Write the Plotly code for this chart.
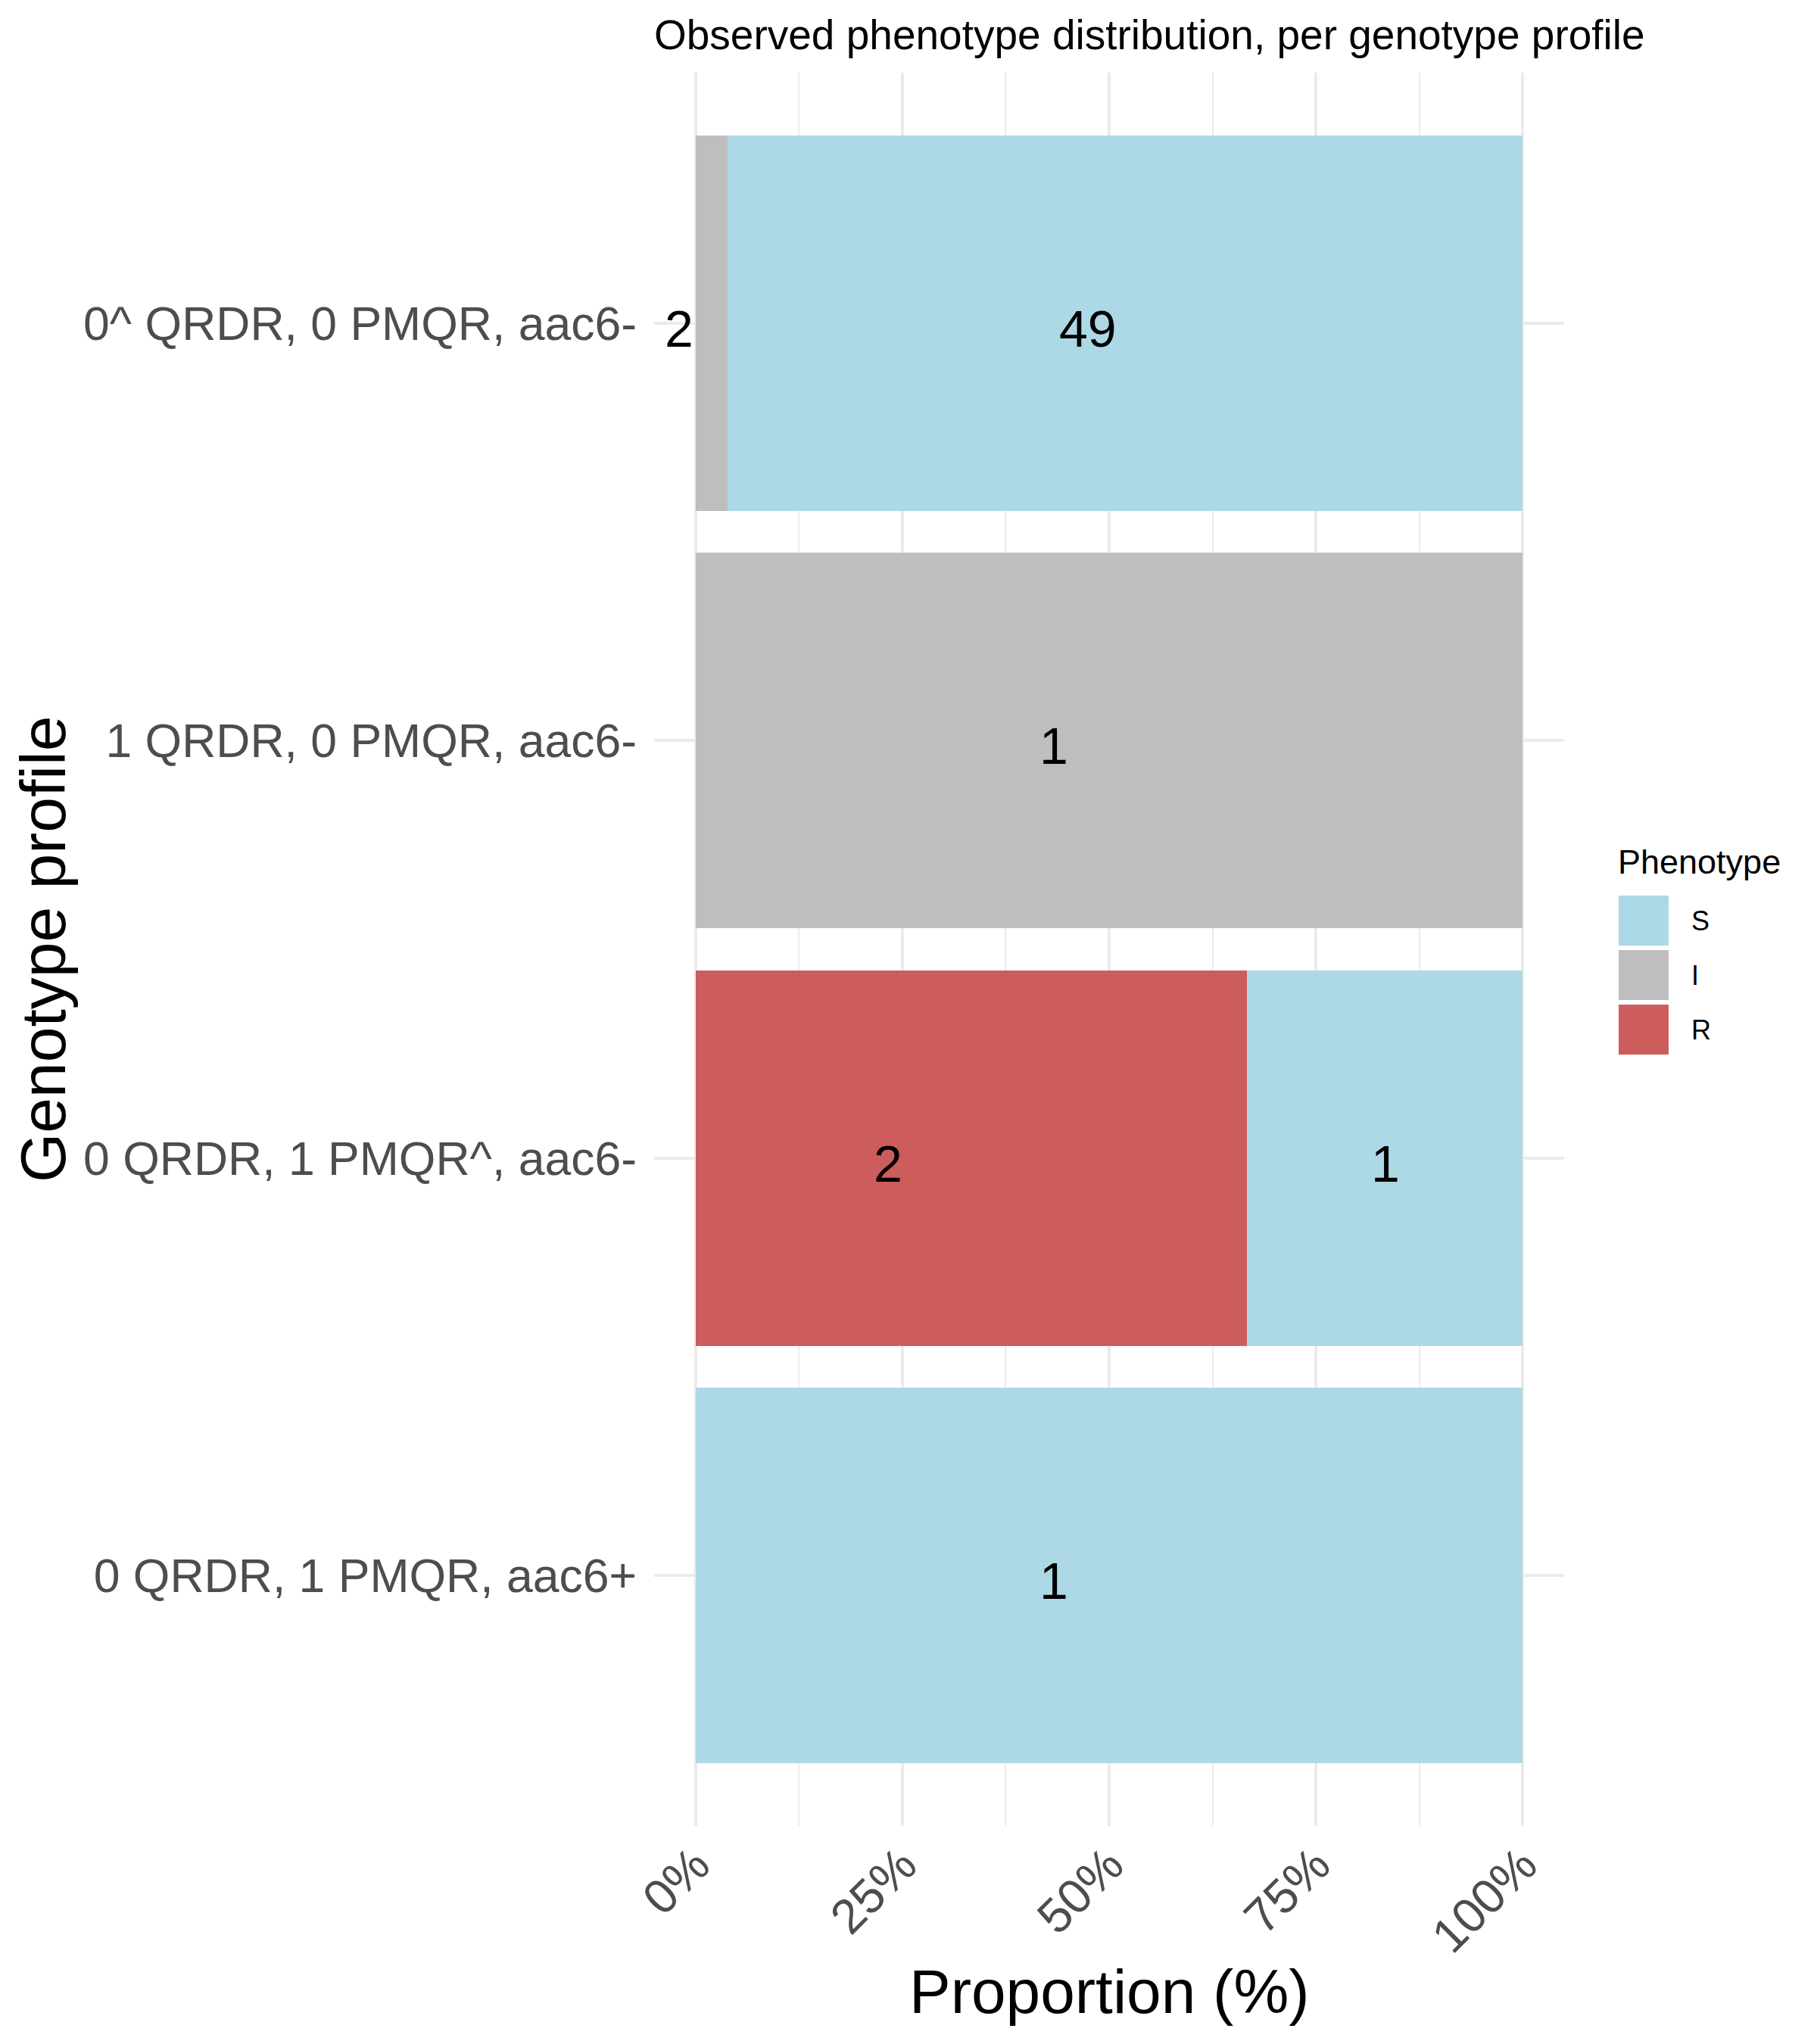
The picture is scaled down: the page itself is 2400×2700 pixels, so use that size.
import plotly.graph_objects as go

# ---------------- data ----------------
profiles = [
    "0^ QRDR, 0 PMQR, aac6-",
    "1 QRDR, 0 PMQR, aac6-",
    "0 QRDR, 1 PMQR^, aac6-",
    "0 QRDR, 1 PMQR, aac6+",
]
phenotypes = ["S", "I", "R"]
count_S = [49, 0, 1, 1]
count_I = [2, 1, 0, 0]
count_R = [0, 0, 2, 0]
x_ticks = [0, 25, 50, 75, 100]

# label nudges (percentage points, relative to segment centre) as seen in the reference
label_nudge = {
    "R": [0, 0, -10.1, 0],
    "I": [-3.9, -6.7, 0, 0],
    "S": [-4.5, 0, 0.1, -6.7],
}

colors = {"S": "#ADD8E6", "I": "#BEBEBE", "R": "#CD5C5C"}
FONT = "Liberation Sans, Arial, Helvetica, sans-serif"

W, H = 2400, 2700
ML, MR, MT, MB = 864, 334, 96, 288
PW, PH = W - ML - MR, H - MT - MB


def px_x(p):
    return (p - ML) / PW


def px_y(p):
    return (H - MB - p) / PH


counts = {"S": count_S, "I": count_I, "R": count_R}
totals = [s + i + r for s, i, r in zip(count_S, count_I, count_R)]
pct = {k: [100.0 * c / t for c, t in zip(v, totals)] for k, v in counts.items()}

fig = go.Figure()
stack_order = ["R", "I", "S"]  # left to right
for ph in stack_order:
    fig.add_trace(go.Bar(
        y=profiles, x=pct[ph], orientation="h", name=ph,
        marker=dict(color=colors[ph], line=dict(width=0)),
        width=0.9, showlegend=False, hoverinfo="skip",
    ))

annotations = []
# bar labels
base = [0.0] * len(profiles)
for ph in stack_order:
    for i, p in enumerate(profiles):
        v = pct[ph][i]
        if counts[ph][i] > 0:
            annotations.append(dict(
                x=base[i] + v / 2 + label_nudge[ph][i], y=p, xref="x", yref="y",
                text=str(counts[ph][i]), showarrow=False, yshift=-7,
                xanchor="center", yanchor="middle",
                font=dict(family=FONT, size=68, color="black"),
            ))
        base[i] += v

fig.update_layout(
    width=W, height=H, barmode="stack", bargap=0.1,
    margin=dict(l=ML, r=MR, t=MT, b=MB, pad=0),
    paper_bgcolor="white", plot_bgcolor="white",
    font=dict(family=FONT, color="black"),
    title=dict(
        text="Observed phenotype distribution, per genotype profile",
        x=px_x(864), xref="paper", xanchor="left",
        y=1 - 46 / H, yref="container", yanchor="middle",
        font=dict(family=FONT, size=55, color="black"),
    ),
    xaxis=dict(
        range=[-5, 105], tickvals=x_ticks, ticktext=[f"{v}%" for v in x_ticks],
        tickangle=-45, tickfont=dict(family=FONT, size=64, color="#4D4D4D"),
        showgrid=True, gridcolor="#EBEBEB", gridwidth=3.5,
        zeroline=False, showline=False, ticks="",
        minor=dict(dtick=12.5, tick0=0, showgrid=True, gridcolor="#EBEBEB", gridwidth=1.8),
        fixedrange=True,
    ),
    yaxis=dict(
        categoryorder="array", categoryarray=profiles, type="category",
        range=[3.6, -0.6],
        tickfont=dict(family=FONT, size=62.5, color="#4D4D4D"),
        showgrid=True, gridcolor="#EBEBEB", gridwidth=3.5,
        zeroline=False, showline=False, ticks="", ticklabelstandoff=22,
        fixedrange=True,
    ),
)

annotations += [
    dict(text="Proportion (%)", x=px_x(1465), y=px_y(2631), xref="paper", yref="paper",
         xanchor="center", yanchor="middle", showarrow=False,
         font=dict(family=FONT, size=82, color="black")),
    dict(text="Genotype profile", x=px_x(57), y=px_y(1254), xref="paper", yref="paper",
         xanchor="center", yanchor="middle", showarrow=False, textangle=-90,
         font=dict(family=FONT, size=84, color="black")),
    dict(text="Phenotype", x=px_x(2135), y=px_y(1138), xref="paper", yref="paper",
         xanchor="left", yanchor="middle", showarrow=False,
         font=dict(family=FONT, size=45, color="black")),
]
shapes = []
key_tops = [1183, 1255, 1327]
for ph, top in zip(phenotypes, key_tops):
    shapes.append(dict(type="rect", xref="paper", yref="paper",
                       x0=px_x(2138), x1=px_x(2204), y0=px_y(top), y1=px_y(top + 66),
                       fillcolor=colors[ph], line=dict(width=0), layer="above"))
    annotations.append(dict(text=ph, x=px_x(2232), y=px_y(top + 33), xref="paper", yref="paper",
                            xanchor="left", yanchor="middle", showarrow=False,
                            font=dict(family=FONT, size=36, color="black")))
fig.update_layout(annotations=annotations, shapes=shapes)

fig.write_html("out.html")
